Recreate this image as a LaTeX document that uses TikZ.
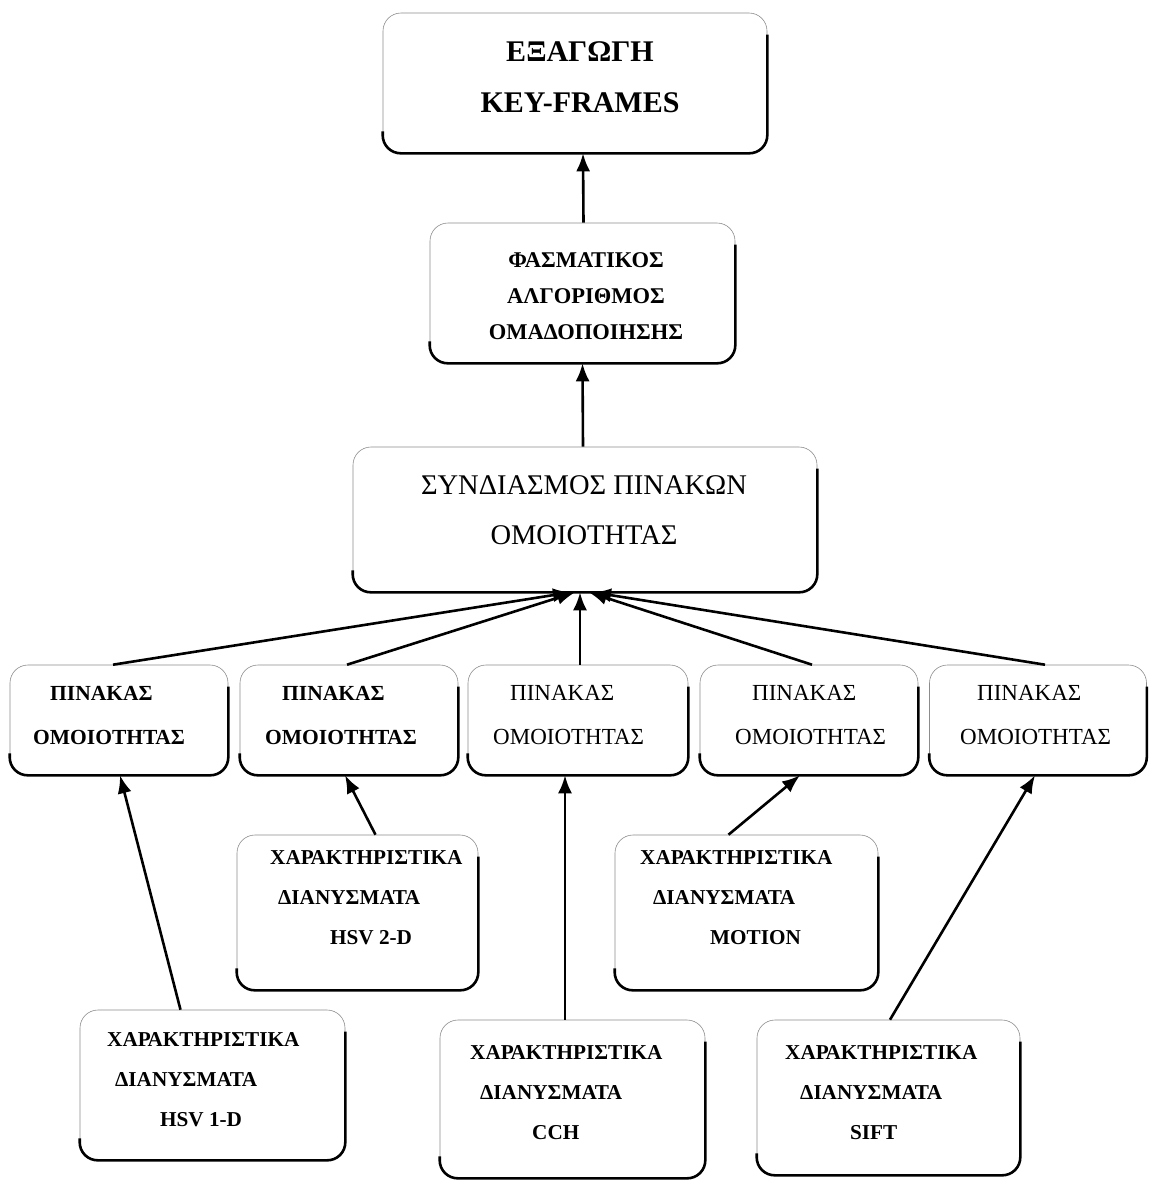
\documentclass[tikz,border=0pt]{standalone}
\usepackage{fontspec}
\setmainfont{Liberation Serif}
\usetikzlibrary{arrows.meta,calc}
\tikzset{
  x=1pt,y=-1pt,
  box/.style={draw=black!45, line width=0.6pt, rounded corners=18pt, inner sep=0pt},
  txt/.style={inner sep=0pt},
  arr/.style={line width=2.6pt, -{Latex[length=18pt,width=14pt]}},
}
\newcommand\heavyedge[1]{%
  \draw[line width=2.6pt, rounded corners=18pt]
    ([yshift=-22pt]#1.north east) -- (#1.south east) -- (#1.south west) -- ([yshift=22pt]#1.south west);}
\begin{document}
\begin{tikzpicture}
\useasboundingbox (0,0) rectangle (1150,1181);
% boxes
\node[box, minimum width=384pt, minimum height=140pt] (top) at (575,83) {};
\node[box, minimum width=305pt, minimum height=140pt] (fas) at (582.5,293) {};
\node[box, minimum width=464pt, minimum height=145pt] (syn) at (585,519.5) {};
\node[box, minimum width=218pt, minimum height=110pt] (p1) at (119,720) {};
\node[box, minimum width=218pt, minimum height=110pt] (p2) at (349,720) {};
\node[box, minimum width=220pt, minimum height=110pt] (p3) at (578,720) {};
\node[box, minimum width=218pt, minimum height=110pt] (p4) at (809,720) {};
\node[box, minimum width=217pt, minimum height=110pt] (p5) at (1038,720) {};
\node[box, minimum width=241pt, minimum height=155pt] (h2) at (357.5,912.5) {};
\node[box, minimum width=263pt, minimum height=155pt] (mo) at (746.5,912.5) {};
\node[box, minimum width=265pt, minimum height=150pt] (h1) at (212.5,1085) {};
\node[box, minimum width=265pt, minimum height=158pt] (cch) at (572.5,1099) {};
\node[box, minimum width=263pt, minimum height=155pt] (sift) at (888.5,1097.5) {};
\foreach \n in {top,fas,syn,p1,p2,p3,p4,p5,h2,mo,h1,cch,sift}{\heavyedge{\n}}
% texts
\node[txt, align=center, font={\fontsize{30}{51}\selectfont\bfseries}] (topt) at (580,77.5) {ΕΞΑΓΩΓΗ\\KEY-FRAMES};
\node[txt, align=center, font={\fontsize{22.5}{36}\selectfont\bfseries}] (fast) at (586,296) {ΦΑΣΜΑΤΙΚΟΣ\\ΑΛΓΟΡΙΘΜΟΣ\\ΟΜΑΔΟΠΟΙΗΣΗΣ};
\node[txt, align=center, font={\fontsize{28.5}{50}\selectfont}] (synt) at (584,510) {ΣΥΝΔΙΑΣΜΟΣ ΠΙΝΑΚΩΝ\\ΟΜΟΙΟΤΗΤΑΣ};
\tikzset{ptxt/.style={txt, anchor=west, align=left, font={\fontsize{21.5}{44}\selectfont\bfseries}}}
\node[ptxt] (p1t) at (33,715) {\hspace*{17pt}ΠΙΝΑΚΑΣ\\ΟΜΟΙΟΤΗΤΑΣ};
\node[ptxt] (p2t) at (265,715) {\hspace*{17pt}ΠΙΝΑΚΑΣ\\ΟΜΟΙΟΤΗΤΑΣ};
\node[ptxt, font={\fontsize{23}{44}\selectfont}] (p3t) at (493,715) {\hspace*{17pt}ΠΙΝΑΚΑΣ\\ΟΜΟΙΟΤΗΤΑΣ};
\node[ptxt, font={\fontsize{23}{44}\selectfont}] (p4t) at (735,715) {\hspace*{17pt}ΠΙΝΑΚΑΣ\\ΟΜΟΙΟΤΗΤΑΣ};
\node[ptxt, font={\fontsize{23}{44}\selectfont}] (p5t) at (960,715) {\hspace*{17pt}ΠΙΝΑΚΑΣ\\ΟΜΟΙΟΤΗΤΑΣ};
\tikzset{ctxt/.style={txt, anchor=west, align=left, font={\fontsize{21.2}{40}\selectfont\bfseries}}}
\node[ctxt] (h2t) at (270,898) {ΧΑΡΑΚΤΗΡΙΣΤΙΚΑ\\\hspace*{8pt}ΔΙΑΝΥΣΜΑΤΑ\\\hspace*{60pt}HSV 2-D};
\node[ctxt] (mot) at (640,898) {ΧΑΡΑΚΤΗΡΙΣΤΙΚΑ\\\hspace*{13pt}ΔΙΑΝΥΣΜΑΤΑ\\\hspace*{70pt}MOTION};
\node[ctxt] (h1t) at (107,1080) {ΧΑΡΑΚΤΗΡΙΣΤΙΚΑ\\\hspace*{8pt}ΔΙΑΝΥΣΜΑΤΑ\\\hspace*{53pt}HSV 1-D};
\node[ctxt] (ccht) at (470,1093) {ΧΑΡΑΚΤΗΡΙΣΤΙΚΑ\\\hspace*{10pt}ΔΙΑΝΥΣΜΑΤΑ\\\hspace*{62pt}CCH};
\node[ctxt] (siftt) at (785,1093) {ΧΑΡΑΚΤΗΡΙΣΤΙΚΑ\\\hspace*{15pt}ΔΙΑΝΥΣΜΑΤΑ\\\hspace*{65pt}SIFT};
% arrows
\draw[arr] ([xshift=1pt]fas.north) -- ([xshift=8pt]top.south);
\draw[arr] ([xshift=-2pt]syn.north) -- ([xshift=0pt]fas.south);
\draw[arr] ([xshift=-6pt]p1.north) -- ([xshift=-14pt]syn.south);
\draw[arr] ([xshift=-2pt]p2.north) -- ([xshift=-10pt]syn.south);
\draw[arr] ([xshift=2pt]p3.north) -- ([xshift=-5pt]syn.south);
\draw[arr] ([xshift=3pt]p4.north) -- ([xshift=4pt]syn.south);
\draw[arr] ([xshift=7pt]p5.north) -- ([xshift=8pt]syn.south);
\draw[arr] ([xshift=-32pt]h1.north) -- ([xshift=1pt]p1.south);
\draw[arr] ([xshift=18pt]h2.north) -- ([xshift=-4pt]p2.south);
\draw[arr] ([xshift=-7.5pt]cch.north) -- ([xshift=-13pt]p3.south);
\draw[arr] ([xshift=-18pt]mo.north) -- ([xshift=-9pt]p4.south);
\draw[arr] ([xshift=1.5pt]sift.north) -- ([xshift=-3pt]p5.south);
\end{tikzpicture}
\end{document}
